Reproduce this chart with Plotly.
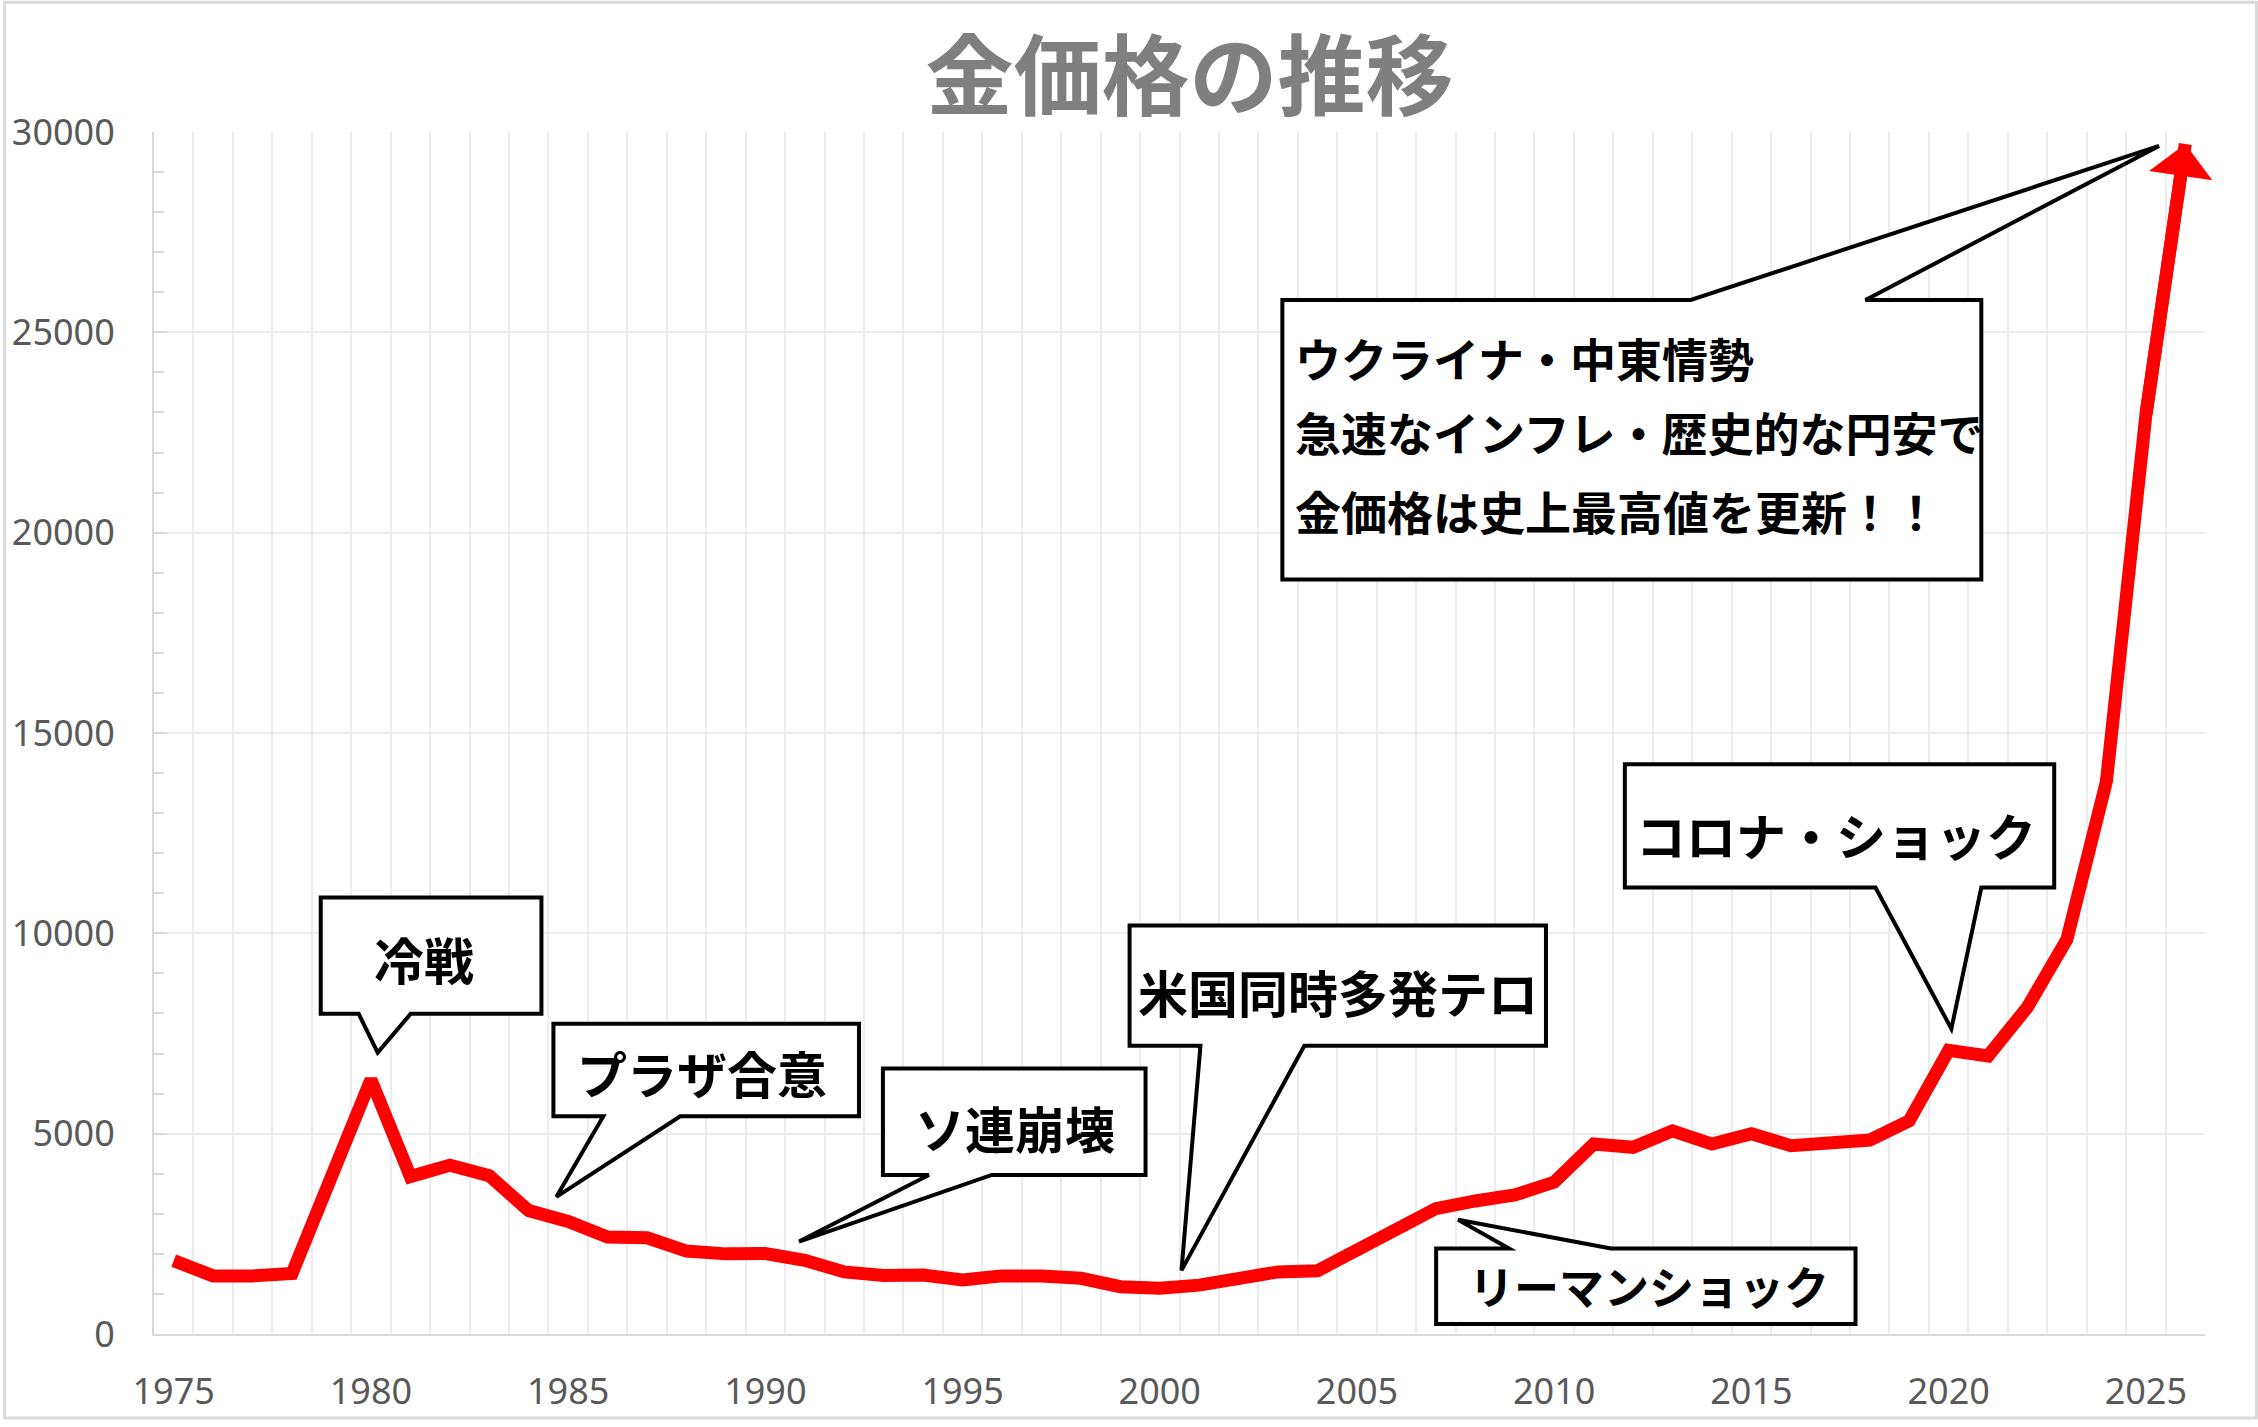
import plotly.graph_objects as go

# ---------------- data ----------------
years = list(range(1975, 2027))
prices = [1830, 1450, 1450, 1510, 3930, 6350, 3930, 4210, 3950, 3080,
          2810, 2420, 2400, 2070, 2000, 2010, 1840, 1550, 1460, 1470,
          1350, 1450, 1450, 1390, 1180, 1140, 1220, 1400, 1550, 1580,
          2090, 2630, 3130, 3320, 3470, 3790, 4740, 4660, 5070, 4740,
          5000, 4700, 4760, 4840, 5320, 7080, 6940, 8160, 9850, 13790,
          22930, 29700]
x_ticks = [1975, 1980, 1985, 1990, 1995, 2000, 2005, 2010, 2015, 2020, 2025]
y_ticks = [0, 5000, 10000, 15000, 20000, 25000, 30000]
title_text = "金価格の推移"
event_labels = ["冷戦", "プラザ合意", "ソ連崩壊", "米国同時多発テロ",
                "リーマンショック", "コロナ・ショック"]
big_lines = ["ウクライナ・中東情勢", "急速なインフレ・歴史的な円安で",
             "金価格は史上最高値を更新！！"]

# ---------------- layout geometry (pixels) ----------------
W, H = 2258, 1427
L, R, T, B = 151, 53, 132, 86
PW = W - L - R
PH = H - T - B


def px(x):
    return (x - L) / PW


def py(y):
    return (H - B - y) / PH


# box (x0, y0, x1, y1), wedge side, wedge base x-range, tip, text centre, font size
callout_geo = [
    ((318, 902, 539, 1019), "bottom", (356, 408), (375, 1058), (421, 963), 50),
    ((551, 1029, 857, 1122), "bottom", (601, 678), (554, 1203), (700, 1077), 50),
    ((881, 1074, 1144, 1181), "bottom", (927, 990), (797, 1248), (1013, 1133), 50),
    ((1128, 930, 1545, 1051), "bottom", (1199, 1303), (1180, 1277), (1337, 996), 50),
    ((1435, 1255, 1855, 1331), "top", (1508, 1610), (1457, 1226), (1648, 1292), 45),
    ((1624, 768, 2054, 892), "bottom", (1875, 1981), (1951, 1034), (1835, 838), 50),
]
big_geo = ((1281, 301, 1981, 582), "top", (1690, 1865), (2159, 146))
big_text_x = 1292
big_text_y = [358, 433, 512]


def callout_path(box, side, base, tip):
    x0, y0, x1, y1 = box
    b1, b2 = base
    tx, ty = tip
    if side == "bottom":
        pts = [(x0, y0), (x1, y0), (x1, y1), (b2, y1), (tx, ty), (b1, y1), (x0, y1)]
    else:
        pts = [(x0, y0), (b1, y0), (tx, ty), (b2, y0), (x1, y0), (x1, y1), (x0, y1)]
    return "M" + " L".join(f"{px(a):.5f},{py(b):.5f}" for a, b in pts) + " Z"


fig = go.Figure()

fig.add_trace(go.Scatter(
    x=years, y=prices, mode="lines",
    line=dict(color="#ff0000", width=13, backoff=[0] * (len(years) - 1) + [16]),
    hoverinfo="skip", showlegend=False,
))

# arrow head at the end of the line
fig.add_annotation(
    x=years[-1], y=prices[-1], ax=years[-2], ay=prices[-2],
    xref="x", yref="y", axref="x", ayref="y",
    showarrow=True, arrowhead=1, arrowsize=0.82, arrowwidth=13,
    arrowcolor="#ff0000", text="", standoff=0,
)

shapes = []
# outer border
shapes.append(dict(type="rect", xref="paper", yref="paper",
                   x0=px(1.5), x1=px(W - 1.5), y0=py(H - 1.5), y1=py(1.5),
                   line=dict(color="#d9d9d9", width=3), fillcolor="rgba(0,0,0,0)",
                   layer="below"))

for label, (box, side, base, tip, tc, fs) in zip(event_labels, callout_geo):
    shapes.append(dict(type="path", xref="paper", yref="paper",
                       path=callout_path(box, side, base, tip),
                       fillcolor="#ffffff", line=dict(color="#000000", width=4),
                       layer="above"))
    fig.add_annotation(x=px(tc[0]), y=py(tc[1]), xref="paper", yref="paper",
                       text=f"<b>{label}</b>", showarrow=False,
                       font=dict(family="Noto Sans CJK JP", size=fs, color="#000000"),
                       xanchor="center", yanchor="middle")

shapes.append(dict(type="path", xref="paper", yref="paper",
                   path=callout_path(*big_geo),
                   fillcolor="#ffffff", line=dict(color="#000000", width=4),
                   layer="above"))
for line_txt, ly in zip(big_lines, big_text_y):
    fig.add_annotation(x=px(big_text_x), y=py(ly), xref="paper", yref="paper",
                       text=f"<b>{line_txt}</b>", showarrow=False,
                       font=dict(family="Noto Sans CJK JP", size=46, color="#000000"),
                       xanchor="left", yanchor="middle", align="left")

tickfont = dict(family="Noto Sans", size=36, color="#595959")

fig.update_layout(
    width=W, height=H,
    margin=dict(l=L, r=R, t=T, b=B, pad=0),
    paper_bgcolor="#ffffff", plot_bgcolor="#ffffff",
    shapes=shapes,
    title=dict(text=f"<b>{title_text}</b>", x=px(1188), xref="paper",
               y=1 - 77 / H, yref="container", xanchor="center", yanchor="middle",
               font=dict(family="Noto Sans CJK JP", size=88, color="#7f7f7f")),
    xaxis=dict(range=[1974.5, 2026.5], tickvals=x_ticks, ticks="",
               showgrid=False, zeroline=False,
               showline=True, linecolor="#d9d9d9", linewidth=2,
               minor=dict(tick0=1974.5, dtick=1, showgrid=True,
                          gridcolor="#ececec", gridwidth=2, ticks=""),
               tickfont=tickfont, ticklabelstandoff=25),
    yaxis=dict(range=[0, 30000], tickvals=y_ticks, tickformat="d",
               ticks="inside", ticklen=13,
               tickcolor="#d9d9d9", tickwidth=1.5,
               showgrid=True, gridcolor="#ececec", gridwidth=2, zeroline=False,
               showline=True, linecolor="#d9d9d9", linewidth=2,
               minor=dict(dtick=1000, ticks="inside", ticklen=10,
                          tickcolor="#d9d9d9", tickwidth=1.5, showgrid=False),
               tickfont=tickfont, ticklabelstandoff=30),
)

fig.write_html("out.html")
